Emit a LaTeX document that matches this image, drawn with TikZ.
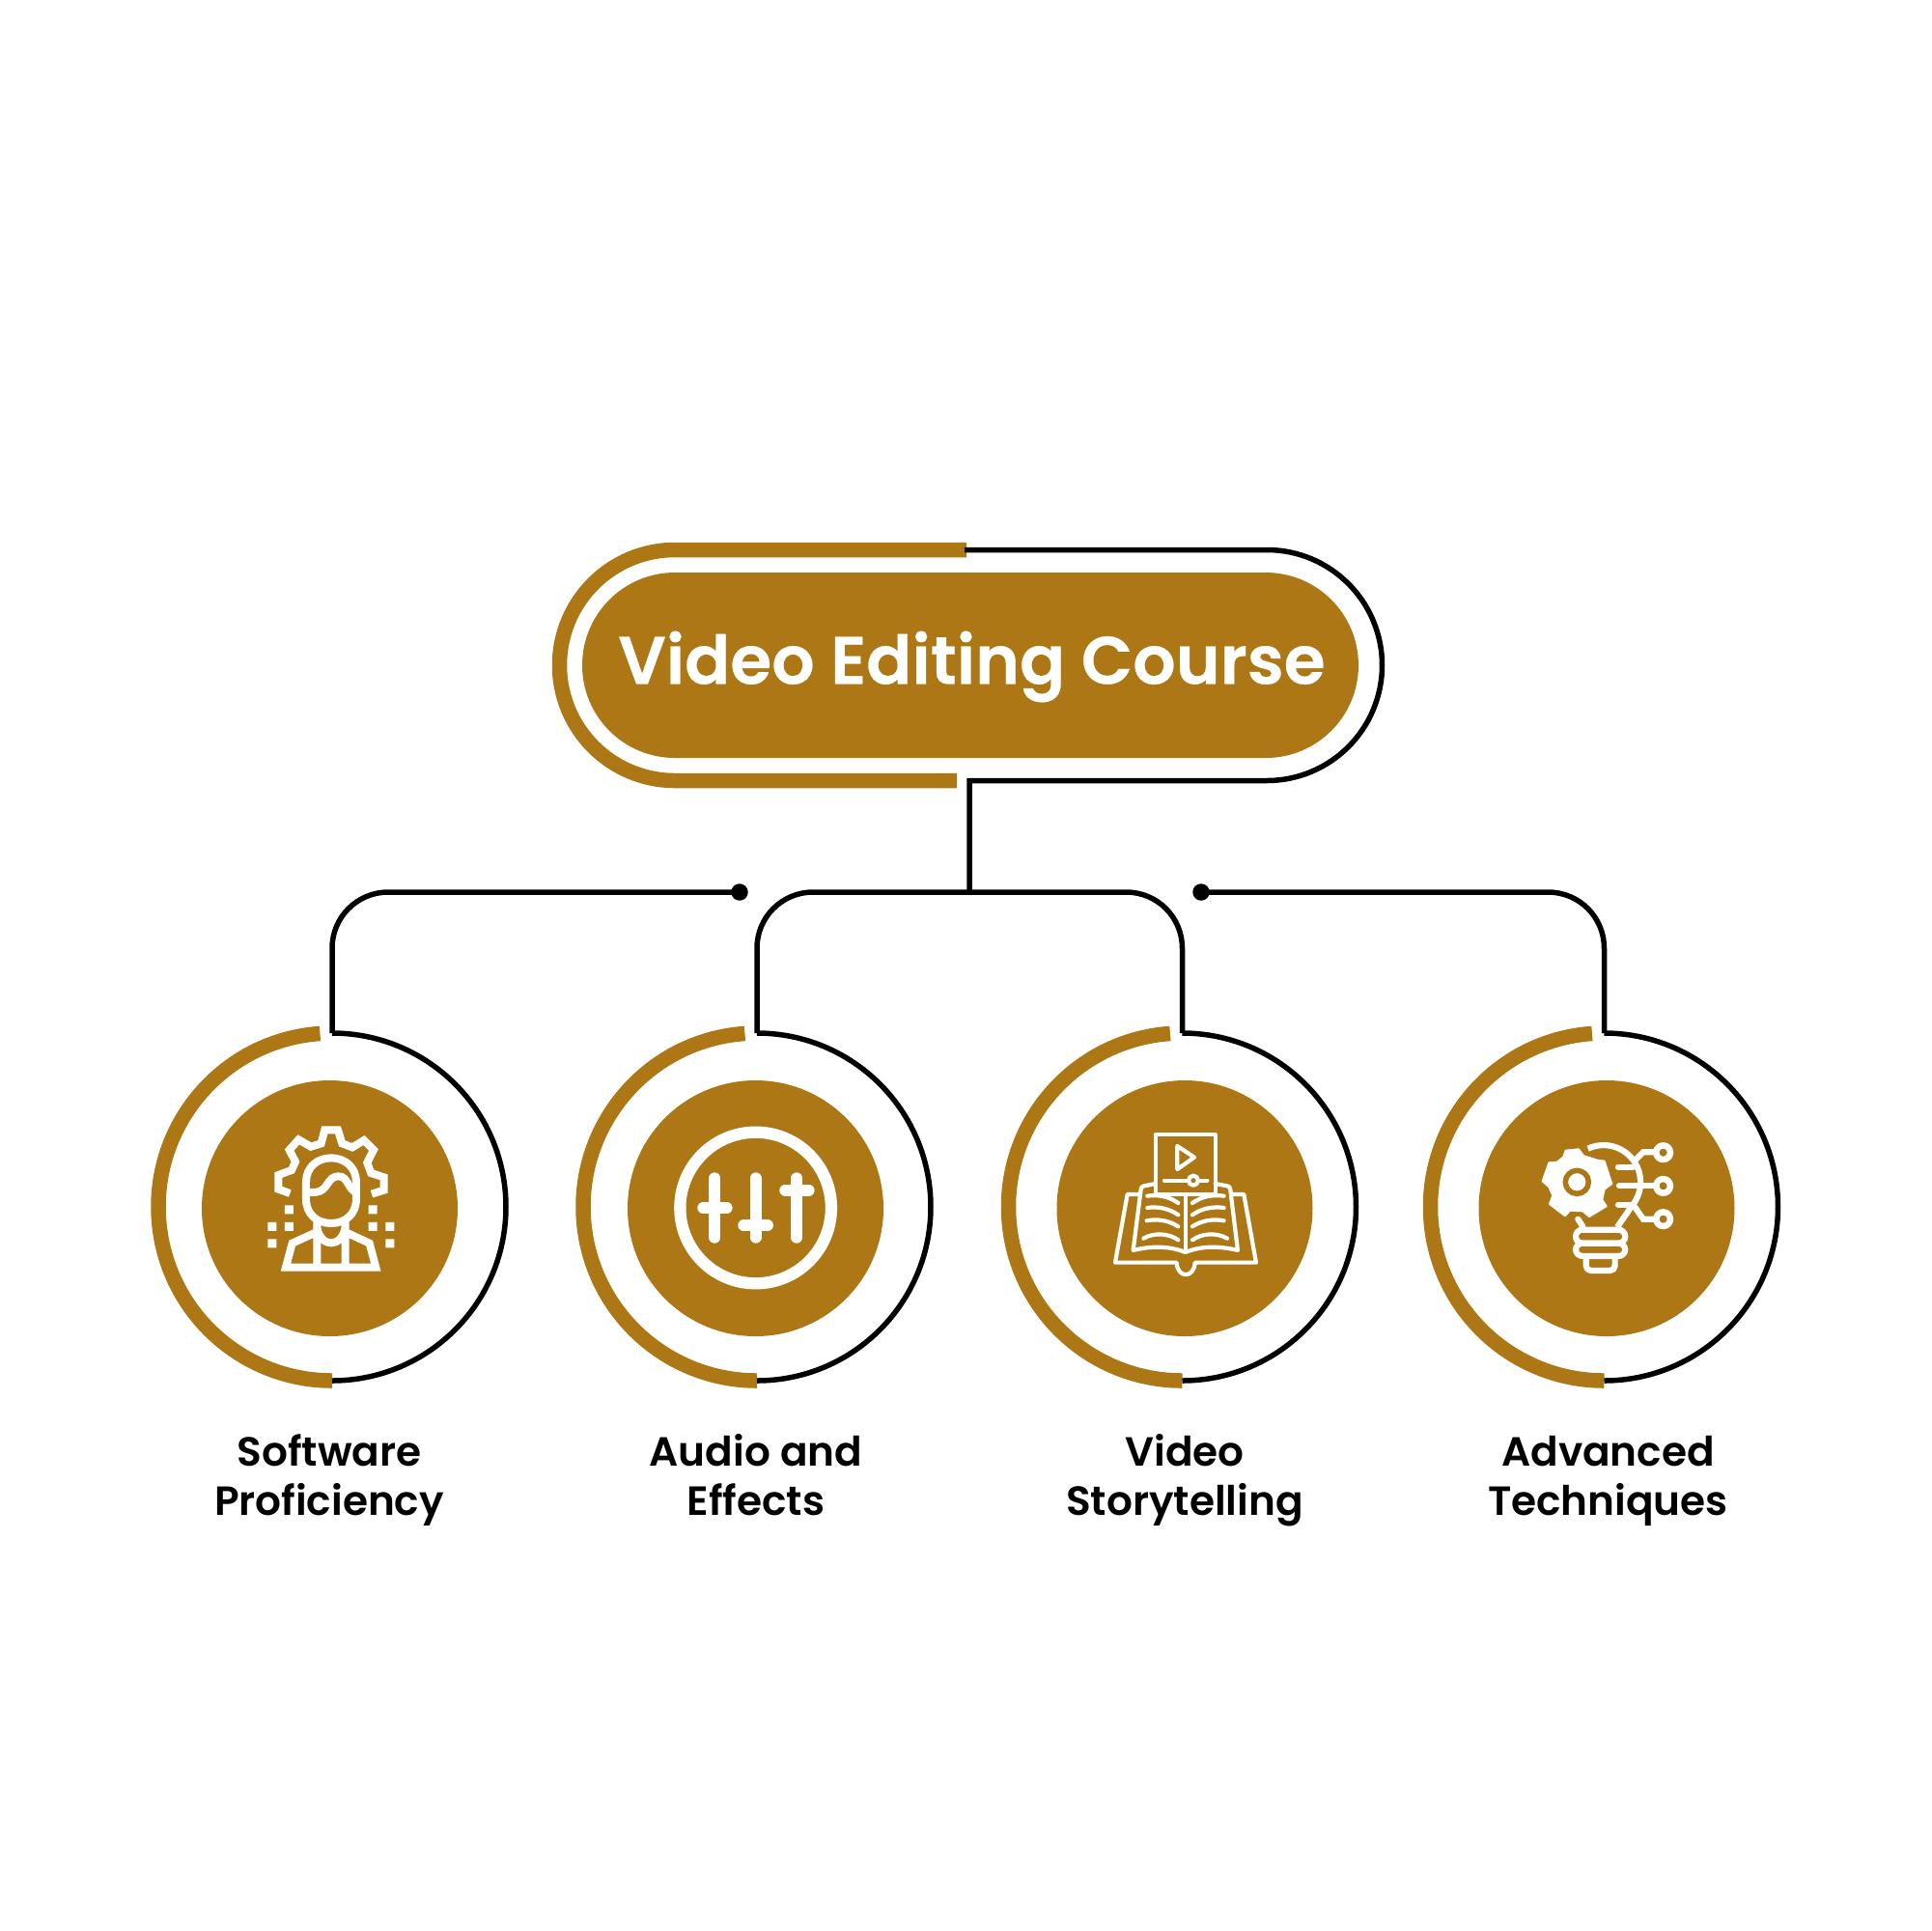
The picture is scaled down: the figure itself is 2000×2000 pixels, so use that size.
\documentclass[tikz,border=0pt]{standalone}
\usepackage{fontspec}
\setmainfont{Poppins}[BoldFont={Poppins SemiBold}]
\newfontfamily\ttlfont{Poppins SemiBold}[FakeBold=0.4]
\usepackage{tikz}
\usetikzlibrary{arrows}
\definecolor{ochre}{RGB}{172,119,20}

\tikzset{
  wire/.style={draw=black,line width=0.55mm},
  goldwire/.style={draw=ochre,line width=1.55mm},
  ring/.style={circle,minimum size=36mm,inner sep=0pt,outer sep=0pt},
  hub/.style={circle,fill=ochre,minimum size=26.5mm,inner sep=0pt,outer sep=0pt},
  endpt/.style={circle,fill=black,minimum size=1.75mm,inner sep=0pt},
  lbl/.style={align=center,font=\fontsize{12}{14.5}\selectfont\bfseries},
  icn/.style={draw=white,line width=#1mm,line join=round,line cap=round}
}

\begin{document}
\begin{tikzpicture}[x=0.1mm,y=-0.1mm]
  \useasboundingbox (0,0) rectangle (2000,2000);

  % title
  \node[rectangle,fill=ochre,rounded corners=9.6mm,minimum width=80.4mm,minimum height=19.2mm,
        inner sep=0pt,text=white] (title) at (1005,689) {};
  \node[text=white,inner sep=0pt,font=\fontsize{19.8}{24}\ttlfont] (titletxt) at (1006.5,690.5) {Video Editing Course};
  \node[rectangle,minimum width=85mm,minimum height=23.9mm,inner sep=0pt,outer sep=0pt] (titlering) at (1004,689) {};
  \coordinate (junc) at (1004,924);
  \coordinate (blacktop) at (999,569.5);
  \coordinate (goldtop) at (1001,569.5);
  \coordinate (goldbot) at (991,808.5);

  % 4 rings
  \node[ring](r1) at (344,1250) {};
  \node[ring](r2) at (784,1250) {};
  \node[ring](r3) at (1224.5,1250) {};
  \node[ring](r4) at (1661.5,1250) {};
  % 4 hubs
  \node[hub](h1) at (341.5,1251.5) {};
  \node[hub](h2) at (782.5,1251.5) {};
  \node[hub](h3) at (1227,1251.5) {};
  \node[hub](h4) at (1664,1251.5) {};
  % 2 loose ends
  \node[endpt](e1) at (766,924) {};
  \node[endpt](e2) at (1244,924) {};
  % 4 labels
  \node[lbl](l1) at (341,1533.5) {\strut Software\\\strut Proficiency};
  \node[lbl](l2) at (783,1533.5) {\strut Audio and\\\strut Effects};
  \node[lbl](l3) at (1227,1533.5) {\strut Video\\\strut Storytelling};
  \node[lbl](l4) at (1665.5,1533.5) {\strut Advanced\\\strut Techniques};

  % title frame
  \draw[goldwire] (goldtop) -- (699,569.5) arc[start angle=90,delta angle=180,radius=11.95mm] -- (goldbot);
  \draw[wire] (blacktop) -- (1312,569.5) arc[start angle=90,delta angle=-180,radius=11.95mm]
     -- (titlering.south) -- (junc);

  % rings, gold half then black half
  \draw[goldwire] (r1.94) arc[start angle=94,delta angle=176,radius=18mm];
  \draw[goldwire] (r2.94) arc[start angle=94,delta angle=176,radius=18mm];
  \draw[goldwire] (r3.94) arc[start angle=94,delta angle=176,radius=18mm];
  \draw[goldwire] (r4.94) arc[start angle=94,delta angle=176,radius=18mm];
  \draw[wire] (r1.north) arc[start angle=90,delta angle=-180,radius=18mm];
  \draw[wire] (r2.north) arc[start angle=90,delta angle=-180,radius=18mm];
  \draw[wire] (r3.north) arc[start angle=90,delta angle=-180,radius=18mm];
  \draw[wire] (r4.north) arc[start angle=90,delta angle=-180,radius=18mm];

  % branches
  \draw[wire,rounded corners=5.8mm] (r1.north) |- (e1.center);
  \draw[wire,rounded corners=5.8mm] (r2.north) |- (junc) -| (r3.north);
  \draw[wire,rounded corners=5.8mm] (r4.north) |- (e2.center);

  % person with gear
  \begin{scope}[shift={(251,1141)},x=0.03333mm,y=-0.03333mm]
    \draw[icn=0.8,line cap=butt,line join=miter] (148,285) -- (112,272) -- (112,228) -- (153,213) -- (165,187)
      -- (146,150) -- (175,118) -- (213,140) -- (245,130) -- (256,88) -- (297,88) -- (310,130) -- (342,142)
      -- (378,120) -- (408,150) -- (388,190) -- (400,222) -- (440,235) -- (440,275) -- (402,287);
    \draw[icn=0.8] (276,175) .. controls (232,175) and (198,205) .. (198,250) -- (198,302)
      .. controls (198,350) and (232,378) .. (276,378) .. controls (320,378) and (354,350) .. (354,302)
      -- (354,250) .. controls (354,205) and (320,175) .. (276,175) -- cycle;
    \draw[icn=0.8] (205,282) -- (225,282) .. controls (268,280) and (262,232) .. (298,232)
      .. controls (330,232) and (325,270) .. (354,282);
    \draw[icn=0.8,line join=miter,line cap=butt] (232,405) -- (155,440) -- (135,515) -- (415,515)
      -- (395,440) -- (320,405) (232,370) -- (232,515) (320,370) -- (320,515);
    \draw[icn=0.8,line cap=butt] (232,392) .. controls (245,455) and (307,455) .. (320,392);
    \fill[white] (132,322) rectangle ++(27,27) (132,375) rectangle ++(27,27) (79,375) rectangle ++(27,27)
      (79,427) rectangle ++(27,27) (392,322) rectangle ++(27,27) (392,375) rectangle ++(27,27)
      (445,375) rectangle ++(27,27) (445,427) rectangle ++(27,27);
  \end{scope}

  % sliders
  \begin{scope}[shift={(681,1151)},x=0.03333mm,y=-0.03333mm]
    \draw[icn=1.23] (305,300) circle[radius=7.83mm];
    \draw[icn=1.2] (178,208) -- (178,392) (142,300) -- (215,300);
    \draw[icn=1.2] (305,208) -- (305,392) (268,355) -- (342,355);
    \draw[icn=1.2] (433,208) -- (433,392) (397,245) -- (470,245);
  \end{scope}

  % book with screen
  \begin{scope}[shift={(1131,1151)},x=0.03333mm,y=-0.03333mm]
    \draw[icn=0.42] (197,258) -- (197,73) -- (383,73) -- (383,258) -- cycle;
    \draw[icn=0.42] (265,108) -- (265,180) -- (318,143) -- cycle;
    \draw[icn=0.42] (225,215) -- (298,215) (332,215) -- (358,215);
    \draw[icn=0.42] (315,215) circle[radius=0.5mm];
    \draw[icn=0.42] (197,225) -- (162,232) .. controls (155,233) and (153,236) .. (152,243) -- (128,432)
      .. controls (185,418) and (240,418) .. (290,438) .. controls (340,418) and (395,418) .. (453,432)
      -- (430,243) .. controls (429,236) and (427,233) .. (420,232) -- (383,225);
    \draw[icn=0.42] (290,262) -- (290,438);
    \draw[icn=0.42] (148,258) -- (110,258) -- (72,470) -- (263,470) .. controls (265,520) and (318,520) .. (320,470)
      -- (510,470) -- (472,258) -- (434,258);
    \draw[icn=0.42] (172,263) .. controls (205,258) and (240,265) .. (268,285)
      (172,300) .. controls (205,295) and (240,302) .. (268,322)
      (170,340) .. controls (205,333) and (240,340) .. (268,358)
      (160,395) .. controls (195,375) and (240,380) .. (268,400);
    \draw[icn=0.42] (410,263) .. controls (375,258) and (340,265) .. (312,285)
      (410,300) .. controls (375,295) and (340,302) .. (312,322)
      (410,340) .. controls (375,333) and (340,340) .. (312,358)
      (420,395) .. controls (385,375) and (340,380) .. (312,400);
  \end{scope}

  % bulb with gear
  \begin{scope}[shift={(1571,1161)},x=0.03333mm,y=-0.03333mm]
    \draw[icn=0.62,line cap=butt] (221,86) arc[start angle=115,delta angle=-155,radius=3.83mm] -- (312,330);
    \fill[white,draw=white,line join=round,line width=0.2mm] (152,92) -- (192,88) -- (207,108) -- (250,122) -- (272,125)
      -- (295,195) -- (272,212) -- (265,245) -- (278,265) -- (225,297) -- (205,280) -- (165,278) -- (150,295)
      -- (102,258) -- (112,232) -- (100,205) -- (80,187) -- (100,130) -- (125,128) -- (145,112) -- cycle;
    \draw[ochre,line width=0.55mm] (187,190) circle[radius=1.2mm];
    \draw[icn=0.62] (190,305) -- (205,328);
    \draw[icn=0.62,rounded corners=0.7mm] (183,338) rectangle (337,380);
    \draw[icn=0.62,rounded corners=0.7mm] (183,380) rectangle (337,420);
    \draw[icn=0.62,rounded corners=0.5mm] (215,420) -- (215,465) -- (305,465) -- (305,420);
    \draw[icn=0.62] (315,143) -- (360,143) (318,202) -- (430,202) (315,260) -- (360,260);
    \draw[icn=0.62,line join=miter] (365,125) -- (393,97) -- (430,97) (365,265) -- (393,305) -- (430,305);
    \draw[icn=0.65] (455,98) circle[radius=0.73mm];
    \draw[icn=0.65] (455,202) circle[radius=0.73mm];
    \draw[icn=0.65] (455,305) circle[radius=0.73mm];
  \end{scope}
\end{tikzpicture}
\end{document}
